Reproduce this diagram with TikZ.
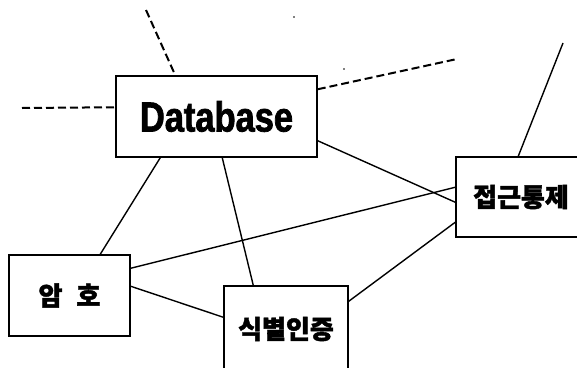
\documentclass[tikz,border=0pt]{standalone}
\usepackage{fontspec}
\usetikzlibrary{calc}
\newfontfamily\krfont{Noto Sans CJK KR}[BoldFeatures={FakeBold=1.6}]
\newfontfamily\dbfont{Liberation Sans}[FakeStretch=0.82, BoldFeatures={FakeBold=1.8}]
\begin{document}
\begin{tikzpicture}[x=1pt,y=-1pt,
  box/.style={draw, line width=1.5pt, inner sep=0pt, rectangle, align=center},
  conn/.style={line width=1.4pt},
  dashconn/.style={line width=2pt, dash pattern=on 8pt off 4pt},
  krtext/.style={font=\krfont\bfseries\fontsize{26}{26}\selectfont}]
\useasboundingbox (0,0) rectangle (577,367);
\clip (0,0) rectangle (577,367);
% boxes
\node[box, minimum width=201pt, minimum height=81pt,
      font=\dbfont\bfseries\fontsize{42}{42}\selectfont] (db) at (216.5,116.5) {\raisebox{-2pt}{Database}};
\node[box, krtext, minimum width=130pt, minimum height=80pt] (jg) at (521,197) {접근통제};
\node[box, krtext, minimum width=121pt, minimum height=81pt] (am) at (69.5,295.5) {암\hspace{14pt}호};
\node[box, krtext, minimum width=124pt, minimum height=86pt] (sik) at (286,329) {식별인증};
% free ends
\coordinate (dl) at (22,108);
\coordinate (dt) at (146,10);
\coordinate (dr) at (457,59);
\coordinate (jt) at (563,43);
% solid connectors
\draw[conn] ([xshift=45pt]db.south west) -- ([xshift=92pt]am.north west);
\draw[conn] ([xshift=107pt]db.south west) -- ([xshift=30pt]sik.north west);
\draw[conn] ([yshift=17pt]db.south east) -- ([yshift=-46pt]jg.north west);
\draw[conn] ([yshift=-14pt]am.north east) -- ([yshift=-31pt]jg.north west);
\draw[conn] ([yshift=-32pt]am.north east) -- ([yshift=-32pt]sik.north west);
\draw[conn] ([yshift=-16pt]sik.north east) -- ([yshift=-66pt]jg.north west);
\draw[conn] ([xshift=63pt]jg.north west) -- (jt);
% dashed connectors
\draw[dashconn] (dl) -- ([yshift=-32pt]db.north west);
\draw[dashconn] (dt) -- ([xshift=60pt]db.north west);
\draw[dashconn] ([yshift=-14pt]db.north east) -- (dr);
% specks
\fill (294,17) circle (0.8pt);
\fill (344,69) circle (0.8pt);
\end{tikzpicture}
\end{document}
